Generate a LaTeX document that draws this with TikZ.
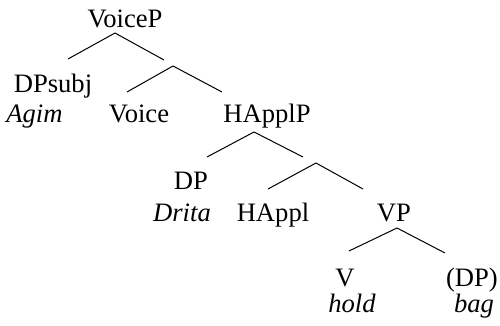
\documentclass[tikz,border=0pt]{standalone}
\usepackage{fontspec}
\setmainfont{Liberation Serif}
\usetikzlibrary{positioning}
\begin{document}
\begin{tikzpicture}[x=0.5pt,y=-0.5pt,-,
                    line width=0.5pt,cat node/.style={anchor=base,inner sep=0pt,font=\fontsize{13.3}{15}\selectfont},
                    word node/.style={cat node,font=\fontsize{13.3}{15}\selectfont\itshape}]
 \useasboundingbox (0,0) rectangle (500,326);

 \node[cat node] (voicep) at (125,28) {VoiceP};
 \node[cat node] (dpsubj) at (53,93) {DPsubj};
 \node[word node] (agim) at (34.5,123) {Agim};
 \node[cat node] (voice) at (139,123) {Voice};
 \node[cat node] (happlp) at (267,123) {HApplP};

 \coordinate (b1) at (115,33);
 \coordinate (b1l) at (68,59);
 \coordinate (b1r) at (164,60);
 \coordinate (b2) at (173,66);
 \coordinate (b2l) at (127,92);
 \coordinate (b2r) at (222,92);

 \path[draw]
 (b1) edge (b1l)
      edge (b1r)
 (b2) edge (b2l)
      edge (b2r);

 \node[cat node] (dp) at (191,190) {DP};
 \node[word node] (drita) at (182,222) {Drita};
 \node[cat node] (happl) at (273,222) {HAppl};
 \node[cat node] (vp) at (394,222) {VP};

 \coordinate (b3) at (254,132);
 \coordinate (b3l) at (207,157);
 \coordinate (b3r) at (303,157);
 \coordinate (b4) at (316,163);
 \coordinate (b4l) at (268,189);
 \coordinate (b4r) at (363,189);

 \path[draw]
 (b3) edge (b3l)
      edge (b3r)
 (b4) edge (b4l)
      edge (b4r);

 \node[cat node] (v) at (345,287) {V};
 \node[word node] (hold) at (352,313) {hold};
 \node[cat node] (dpobj) at (472,287) {(DP)};
 \node[word node] (bag) at (474,313) {bag};

 \coordinate (b5) at (397,228);
 \coordinate (b5l) at (349,251);
 \coordinate (b5r) at (445,253);

 \path[draw]
 (b5) edge (b5l)
      edge (b5r);

\end{tikzpicture}
\end{document}
